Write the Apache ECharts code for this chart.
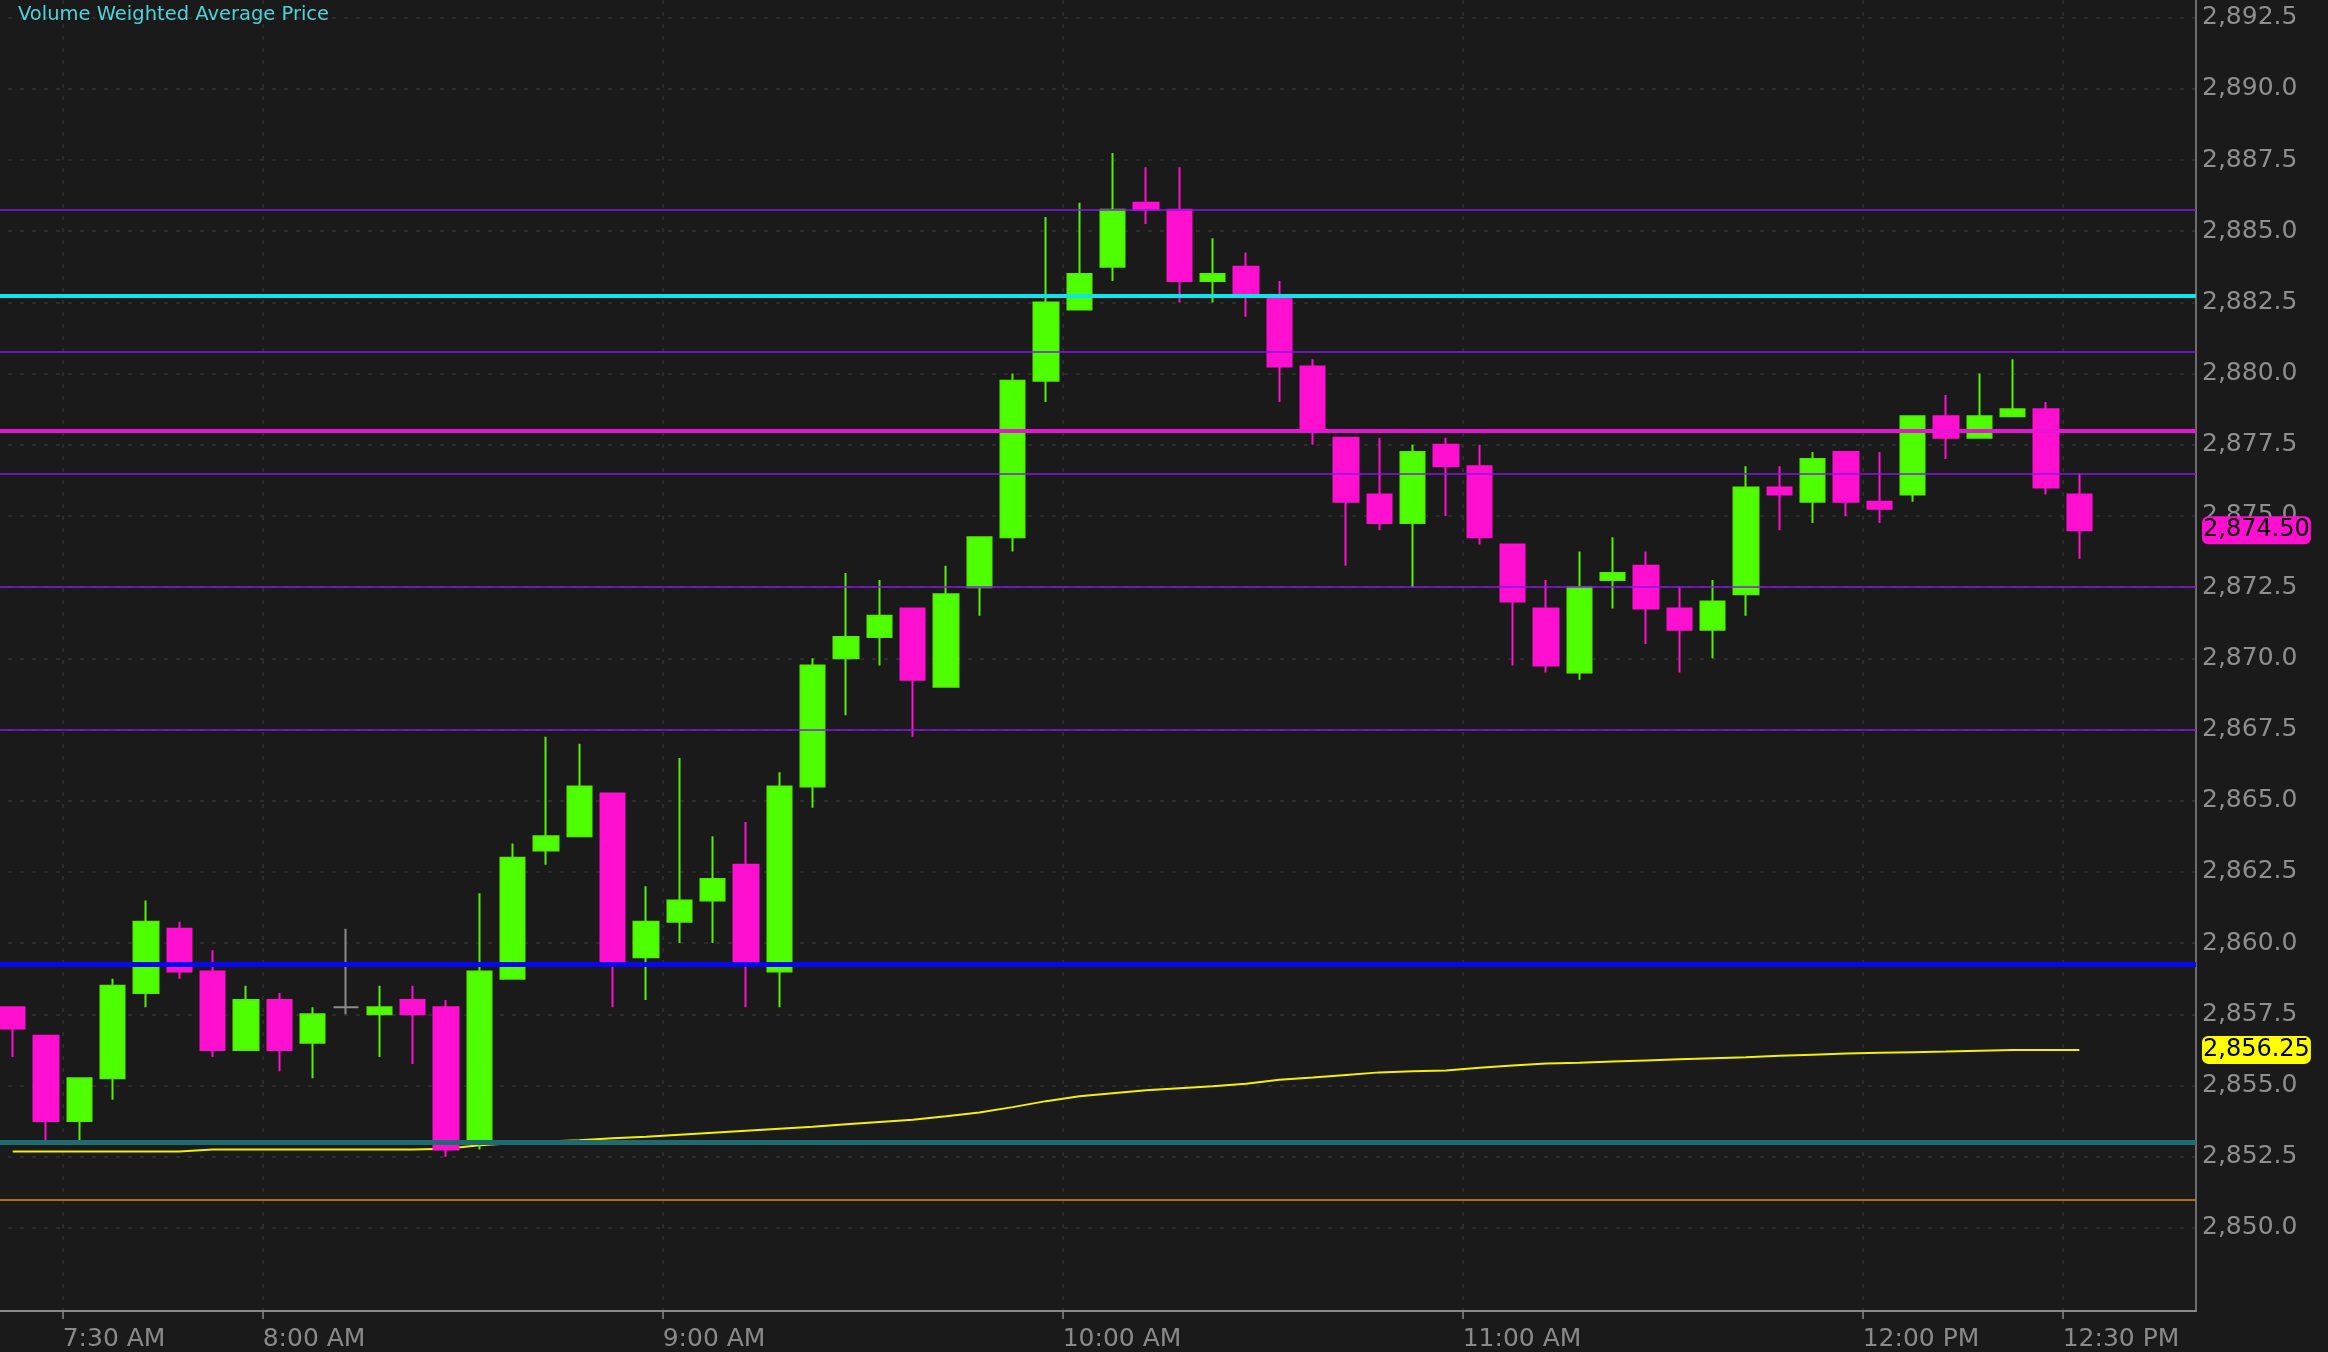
<!DOCTYPE html>
<html><head><meta charset="utf-8">
<script src="https://cdn.jsdelivr.net/npm/echarts@6/dist/echarts.min.js"></script>
<style>html,body{margin:0;padding:0;background:#1a1a1a;}#c{width:2328px;height:1352px;}</style>
</head><body><div id="c"></div>
<script>
const categories = ['7:20','7:25','7:30','7:35','7:40','7:45','7:50','7:55',
 '8:00','8:05','8:10','8:15','8:20','8:25','8:30','8:35','8:40','8:45','8:50','8:55',
 '9:00','9:05','9:10','9:15','9:20','9:25','9:30','9:35','9:40','9:45','9:50','9:55',
 '10:00','10:05','10:10','10:15','10:20','10:25','10:30','10:35','10:40','10:45','10:50','10:55',
 '11:00','11:05','11:10','11:15','11:20','11:25','11:30','11:35','11:40','11:45','11:50','11:55',
 '12:00','12:05','12:10','12:15','12:20','12:25','12:30','12:35','12:40','12:45'];

const opens = [2857.75,2856.75,2853.75,2855.25,2858.25,2860.5,2859.0,2856.25,2858.0,2856.5,
 2857.75,2857.5,2858.0,2857.75,2853.0,2858.75,2863.25,2863.75,2865.25,2859.5,
 2860.75,2861.5,2862.75,2859.0,2865.5,2870.0,2870.75,2871.75,2869.0,2872.5,
 2874.25,2879.75,2882.25,2883.75,2886.0,2885.75,2883.25,2883.75,2882.75,2880.25,
 2877.75,2875.75,2874.75,2877.5,2876.75,2874.0,2871.75,2869.5,2872.75,2873.25,
 2871.75,2871.0,2872.25,2876.0,2875.5,2877.25,2875.5,2875.75,2878.5,2877.75,
 2878.5,2878.75,2875.75];
const closes = [2857.0,2853.75,2855.25,2858.5,2860.75,2859.0,2856.25,2858.0,2856.25,2857.5,
 2857.75,2857.75,2857.5,2852.75,2859.0,2863.0,2863.75,2865.5,2859.25,2860.75,
 2861.5,2862.25,2859.25,2865.5,2869.75,2870.75,2871.5,2869.25,2872.25,2874.25,
 2879.75,2882.5,2883.5,2885.75,2885.75,2883.25,2883.5,2882.75,2880.25,2878.0,
 2875.5,2874.75,2877.25,2876.75,2874.25,2872.0,2869.75,2872.5,2873.0,2871.75,
 2871.0,2872.0,2876.0,2875.75,2877.0,2875.5,2875.25,2878.5,2877.75,2878.5,
 2878.75,2876.0,2874.5];
const lows = [2856.0,2853.0,2853.0,2854.5,2857.75,2858.75,2856.0,2856.25,2855.5,2855.25,
 2857.5,2856.0,2855.75,2852.5,2852.75,2858.75,2862.75,2863.75,2857.75,2858.0,
 2860.0,2860.0,2857.75,2857.75,2864.75,2868.0,2869.75,2867.25,2869.0,2871.5,
 2873.75,2879.0,2882.25,2883.25,2885.25,2882.5,2882.5,2882.0,2879.0,2877.5,
 2873.25,2874.5,2872.5,2875.0,2874.0,2869.75,2869.5,2869.25,2871.75,2870.5,
 2869.5,2870.0,2871.5,2874.5,2874.75,2875.0,2874.75,2875.5,2877.0,2877.75,
 2878.5,2875.75,2873.5];
const highs = [2857.75,2856.75,2855.25,2858.75,2861.5,2860.75,2859.75,2858.5,2858.25,2857.75,
 2860.5,2858.5,2858.5,2858.0,2861.75,2863.5,2867.25,2867.0,2865.25,2862.0,
 2866.5,2863.75,2864.25,2866.0,2870.0,2873.0,2872.75,2871.75,2873.25,2874.25,
 2880.0,2885.5,2886.0,2887.75,2887.25,2887.25,2884.75,2884.25,2883.25,2880.5,
 2877.75,2877.75,2877.5,2877.75,2877.5,2874.0,2872.75,2873.75,2874.25,2873.75,
 2872.5,2872.75,2876.75,2876.75,2877.25,2877.25,2877.25,2878.5,2879.25,2880.0,
 2880.5,2879.0,2876.5];

const vwap = [2852.68,2852.68,2852.68,2852.68,2852.68,2852.68,
 2852.75,2852.75,2852.75,2852.75,2852.75,2852.75,2852.75,
 2852.78,2852.9,2852.97,2853.03,2853.08,2853.15,2853.2,2853.27,2853.34,2853.41,2853.48,
 2853.55,2853.64,2853.72,2853.8,2853.92,2854.05,2854.24,2854.45,2854.62,2854.73,
 2854.83,2854.9,2854.97,2855.06,2855.2,2855.28,2855.37,2855.46,2855.5,2855.53,
 2855.62,2855.7,2855.77,2855.8,2855.84,2855.88,2855.92,2855.96,2855.99,2856.04,
 2856.08,2856.12,2856.15,2856.17,2856.19,2856.22,2856.25,2856.25,2856.25];

const xTickMinutes = [450, 480, 540, 600, 660, 720, 750];
const xTickLabels = ['7:30 AM','8:00 AM','9:00 AM','10:00 AM','11:00 AM','12:00 PM','12:30 PM'];
const yTicks = [2850,2852.5,2855,2857.5,2860,2862.5,2865,2867.5,2870,2872.5,2875,2877.5,2880,2882.5,2885,2887.5,2890,2892.5];

const purpleLevels = [2885.75, 2880.75, 2876.5, 2872.5, 2867.5];
const cyanLevel = 2882.75;
const magentaLevel = 2878.0;
const blueLevel = 2859.25;
const tealLevel = 2853.0;
const orangeLevel = 2851.0;
const lastPrice = 2874.5;
const vwapLast = 2856.25;

const FONT = 'DejaVu Sans';
function fmt(v, d) {
  const parts = v.toFixed(d).split('.');
  return parts[0].replace(/\B(?=(\d{3})+$)/g, ',') + (parts[1] ? '.' + parts[1] : '');
}

const candleData = opens.map((o, i) => [o, closes[i], lows[i], highs[i]]);

const levelLines = [];
purpleLevels.forEach(v => levelLines.push({yAxis: v, lineStyle: {color: '#8a16e8', width: 1.5, type: 'solid'}}));
levelLines.push({yAxis: cyanLevel, lineStyle: {color: '#10e4ea', width: 4, type: 'solid'}});
levelLines.push({yAxis: magentaLevel, lineStyle: {color: '#e814d4', width: 4, type: 'solid'}});
levelLines.push({yAxis: blueLevel, lineStyle: {color: '#0808f0', width: 5, type: 'solid'}});
levelLines.push({yAxis: tealLevel, lineStyle: {color: '#1f6b72', width: 5, type: 'solid'}});
levelLines.push({yAxis: orangeLevel, lineStyle: {color: '#e68a00', width: 1.5, type: 'solid'}});

function priceTag(v, bg) {
  return {
    yAxis: v,
    lineStyle: {color: 'rgba(0,0,0,0)', width: 0},
    label: {
      show: true, position: 'end', distance: 6,
      formatter: fmt(v, 2),
      color: '#000', backgroundColor: bg, borderRadius: 6,
      padding: [3, 1, 1, 1], fontSize: 24, fontFamily: FONT
    }
  };
}

const dash = {color: '#2c2c2c', width: 2, type: [4, 8]};

const chart = echarts.init(document.getElementById('c'));
chart.setOption({
  animation: false,
  backgroundColor: '#1a1a1a',
  title: {
    text: 'Volume Weighted Average Price', left: 18, top: 5, padding: 0,
    textStyle: {color: '#4fd3d8', fontSize: 19.5, fontFamily: FONT, fontWeight: 'normal'}
  },
  grid: {left: -4, right: 132, top: 0, bottom: 41, containLabel: false, outerBoundsMode: 'none'},
  xAxis: [
    {type: 'category', data: categories, boundaryGap: true, show: false, position: 'bottom'},
    {type: 'value', min: 440, max: 770, position: 'bottom',
     axisLine: {show: true, onZero: false, lineStyle: {color: '#8a8a8a', width: 2}},
     axisTick: {show: true, customValues: xTickMinutes, length: 8, lineStyle: {color: '#8a8a8a', width: 1.5}},
     axisLabel: {show: true, customValues: xTickMinutes, align: 'left', margin: 16,
       formatter: v => xTickLabels[xTickMinutes.indexOf(v)] || '',
       color: '#8a8a8a', fontSize: 25, fontFamily: FONT},
     splitLine: {show: true, lineStyle: dash}}
  ],
  yAxis: {
    type: 'value', position: 'right', min: 2847.08, max: 2893.12, scale: true,
    axisLine: {show: true, onZero: false, lineStyle: {color: '#8a8a8a', width: 1.5}},
    axisTick: {show: false, customValues: yTicks},
    axisLabel: {show: true, customValues: yTicks, margin: 6, formatter: v => fmt(v, 1),
      color: '#8e8e8e', fontSize: 25, fontFamily: FONT},
    splitLine: {show: true, lineStyle: dash}
  },
  series: [
    {type: 'line', name: 'levels', xAxisIndex: 0, yAxisIndex: 0, data: [], z: 1, silent: true,
     markLine: {symbol: ['none', 'none'], silent: true, animation: false, label: {show: false}, data: levelLines}},
    {type: 'line', name: 'VWAP', xAxisIndex: 0, yAxisIndex: 0, data: vwap, z: 2, silent: true,
     symbol: 'none', showSymbol: false, lineStyle: {color: '#f2f200', width: 2}},
    {type: 'candlestick', name: 'price', xAxisIndex: 0, yAxisIndex: 0, z: 3, barWidth: 25,
     data: candleData, silent: true,
     itemStyle: {color: '#4dff00', color0: '#ff0fd0', borderColor: '#55f000', borderColor0: '#ff0fd0',
       borderColorDoji: '#8c8c8c', borderWidth: 2}},
    {type: 'line', name: 'tags', xAxisIndex: 0, yAxisIndex: 0, data: [], z: 10, silent: true,
     markLine: {symbol: ['none', 'none'], silent: true, animation: false,
       data: [priceTag(lastPrice, '#ff0fd0'), priceTag(vwapLast, '#ffff00')]}}
  ]
});
</script></body></html>
